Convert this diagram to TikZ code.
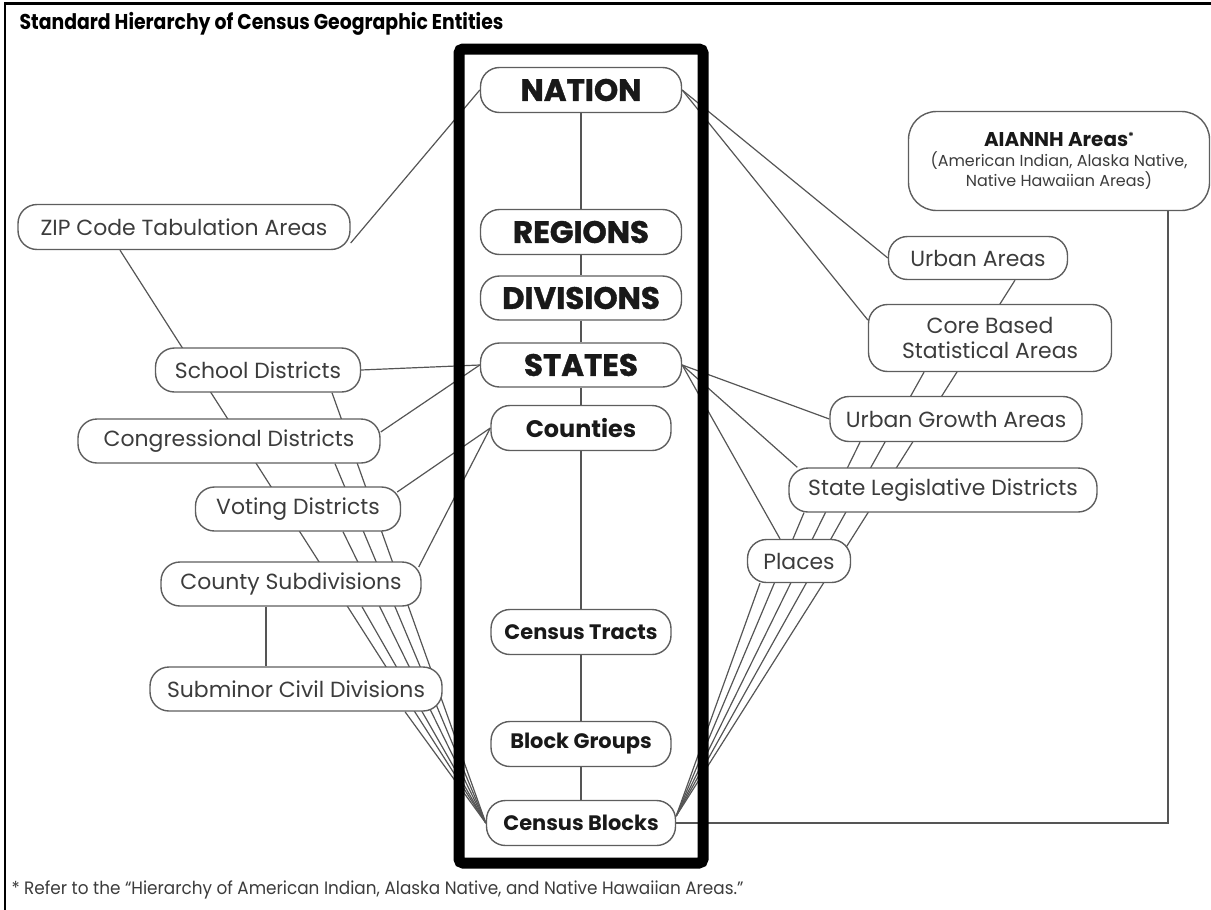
\documentclass[tikz,border=0pt]{standalone}
\usepackage{fontspec}
\setmainfont{Poppins}
\newfontfamily\heavyfont{Poppins}[BoldFeatures={FakeBold=1.2}]
\usetikzlibrary{backgrounds,positioning}

\definecolor{boxgray}{HTML}{5E5E5E}
\definecolor{linegray}{HTML}{555555}
\definecolor{txtgray}{HTML}{3C3C3C}

\begin{document}
\begin{tikzpicture}[box/.style={draw=boxgray, line width=1.4bp, rounded corners=19bp, fill=white,
                      minimum height=45bp, inner sep=0pt, text=txtgray, font=\fontsize{22}{25}\selectfont},
                    keybox/.style={box, text=black!90, font=\fontsize{21}{24}\selectfont\bfseries},
                    topbox/.style={box, text=black!90, font=\fontsize{31}{33}\selectfont\heavyfont\bfseries},
                    link/.style={draw=linegray, line width=1.2bp}]
	\useasboundingbox (0bp,0bp) rectangle (1211bp,-910bp);

	\node (title) at (16bp,-29bp) [anchor=base west, font=\fontsize{21.5}{23}\selectfont\bfseries]
		{\scalebox{0.88}[1]{Standard Hierarchy of Census Geographic Entities}};

	% main spine
	\node (nation) at (581bp,-90bp)     [topbox, minimum width=201bp] {NATION};
	\node (regions) at (581bp,-232bp)   [topbox, minimum width=201bp] {REGIONS};
	\node (divisions) at (581bp,-298bp) [topbox, minimum width=201bp, minimum height=44bp] {DIVISIONS};
	\node (states) at (581bp,-365bp)    [topbox, minimum width=201bp, minimum height=44bp] {STATES};
	\node (counties) at (581bp,-428bp)  [keybox, minimum width=180bp, font=\fontsize{24}{26}\selectfont\bfseries] {Counties};
	\node (tracts) at (581bp,-632bp)    [keybox, minimum width=180bp] {Census Tracts};
	\node (groups) at (581bp,-744bp)    [keybox, minimum width=180bp] {Block Groups};
	\node (blocks) at (581bp,-823bp)    [keybox, minimum width=189bp] {Census Blocks};

	% left side
	\node (zcta) at (184bp,-227bp)      [box, minimum width=332bp] {ZIP Code Tabulation Areas};
	\node (school) at (258bp,-370bp)    [box, minimum width=205bp, minimum height=44bp] {School Districts};
	\node (congress) at (229bp,-441bp)  [box, minimum width=302bp, minimum height=44bp] {Congressional Districts};
	\node (voting) at (298bp,-509bp)    [box, minimum width=205bp, minimum height=44bp] {Voting Districts};
	\node (countysub) at (291bp,-584bp) [box, minimum width=260bp, minimum height=44bp] {County Subdivisions};
	\node (subminor) at (296bp,-689bp)  [box, minimum width=292bp, minimum height=44bp] {Subminor Civil Divisions};

	% right side
	\node (aiannh) at (1059bp,-161bp)   [box, minimum width=301bp, minimum height=99bp, rounded corners=28bp, align=center, font=\fontsize{16}{20}\selectfont]
		{{\fontsize{20}{22}\selectfont\bfseries\color{black!90}AIANNH Areas\raisebox{6bp}{\fontsize{11}{11}\selectfont *}}\\
		 (American Indian, Alaska Native,\\ Native Hawaiian Areas)};
	\node (urban) at (978bp,-258bp)     [box, minimum width=179bp, minimum height=43bp] {Urban Areas};
	\node (cbsa) at (990bp,-338bp)      [box, minimum width=243bp, minimum height=67bp, align=center] {Core Based\\Statistical Areas};
	\node (uga) at (956bp,-419bp)       [box, minimum width=252bp] {Urban Growth Areas};
	\node (sld) at (943bp,-490bp)       [box, minimum width=308bp, minimum height=44bp] {State Legislative Districts};
	\node (places) at (799bp,-561bp)    [box, minimum width=103bp, minimum height=43bp] {Places};

	\node (note) at (8bp,-894bp) [anchor=base west, text=txtgray, font=\fontsize{18}{20}\selectfont]
		{\scalebox{0.94}[1]{* Refer to the “Hierarchy of American Indian, Alaska Native, and Native Hawaiian Areas.”}};

	\begin{scope}[on background layer]
	\draw [link] (nation) -- (regions) -- (divisions) -- (states) -- (counties) -- (tracts) -- (groups) -- (blocks);

	\draw [link] ([yshift=-16bp]zcta.east) -- (nation.west);
	\draw [link] (school.east) -- (states.west);
	\draw [link] ([yshift=9bp]congress.east) -- (states.west);
	\draw [link] ([xshift=-4bp,yshift=17bp]voting.east) -- (counties.west);
	\draw [link] ([xshift=-3bp,yshift=17bp]countysub.east) -- (counties.west);
	\draw [link] ([xshift=-25bp]countysub.south) -- ([xshift=-30bp]subminor.north);

	\draw [link] ([xshift=-64bp]zcta.south) -- (blocks.west);
	\draw [link] ([xshift=74bp]school.south) -- (blocks.west);
	\draw [link] ([xshift=106bp]congress.south) -- (blocks.west);
	\draw [link] ([xshift=45bp]voting.south) -- (blocks.west);
	\draw [link] ([xshift=71bp]countysub.south) -- (blocks.west);
	\draw [link] ([xshift=109bp]subminor.south) -- (blocks.west);

	\draw [link] (nation.east) -- (urban.west);
	\draw [link] (nation.east) -- ([yshift=18bp]cbsa.west);
	\draw [link] (states.east) -- (uga.west);
	\draw [link] (states.east) -- ([xshift=9bp]sld.north west);
	\draw [link] (states.east) -- ([xshift=-19bp]places.north);

	\draw [link] ([xshift=37bp]urban.south) -- ([yshift=7bp]blocks.east);
	\draw [link] ([xshift=-66bp]cbsa.south) -- ([yshift=7bp]blocks.east);
	\draw [link] ([xshift=-96bp]uga.south) -- ([yshift=7bp]blocks.east);
	\draw [link] ([xshift=-139bp]sld.south) -- ([yshift=7bp]blocks.east);
	\draw [link] ([xshift=-39bp]places.south) -- ([yshift=7bp]blocks.east);

	\draw [link] ([xshift=109bp]aiannh.south) |- (blocks.east);
	\end{scope}

	% heavy frame round the spine, and the outer edge
	\draw [line width=11bp, rounded corners=4bp] (459bp,-49bp) rectangle (703bp,-863bp);
	\draw [line width=2.5bp] (5bp,-910bp) -- (5bp,-3.5bp) -- (1211bp,-3.5bp);
\end{tikzpicture}
\end{document}
